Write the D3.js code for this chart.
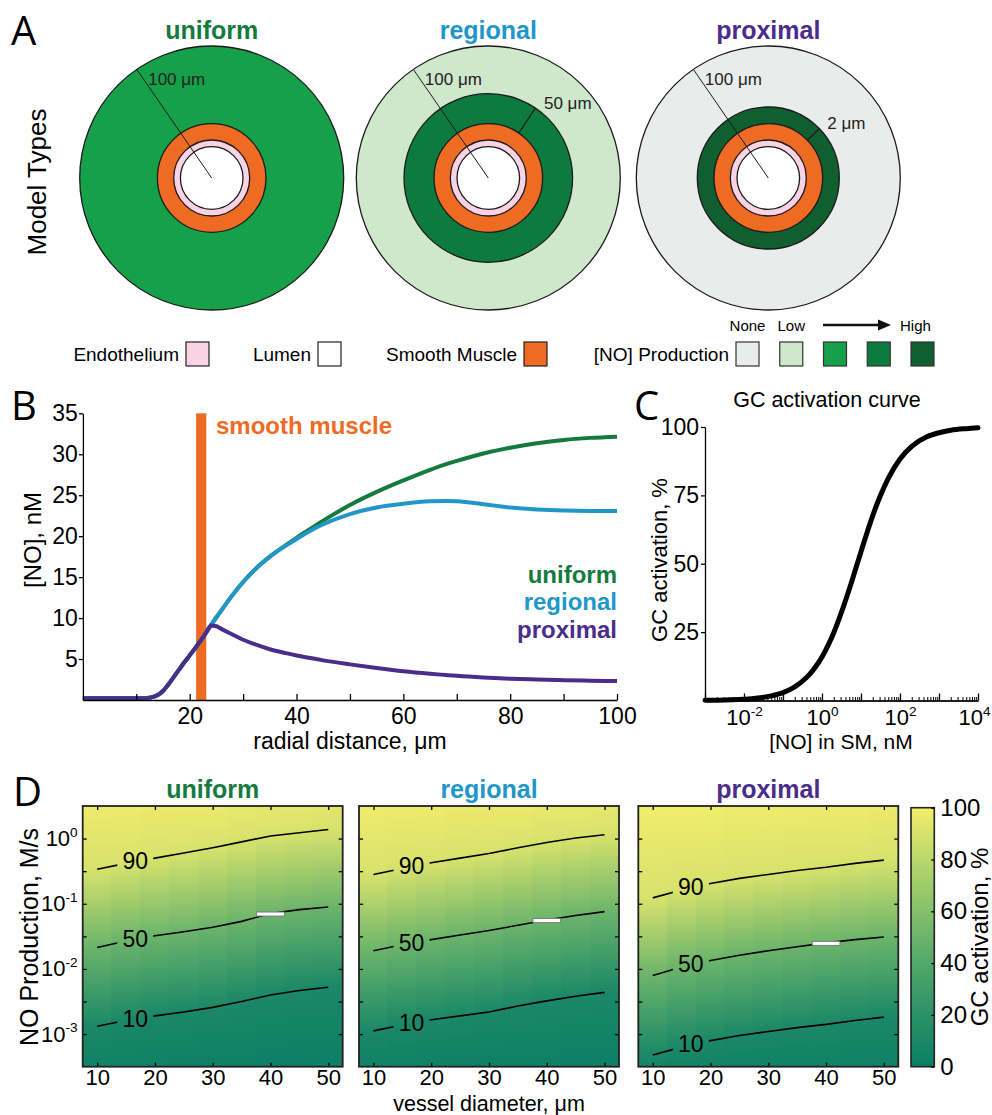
<!DOCTYPE html>
<html>
<head>
<meta charset="utf-8">
<script src="https://cdn.jsdelivr.net/npm/d3@7"></script>
<style>
  body { margin: 0; background: #fff; }
  svg { display: block; font-family: "Liberation Sans", Arial, Helvetica, sans-serif; }
</style>
</head>
<body>
<svg id="fig" width="992" height="1115"></svg>
<script>
// ---------- data ----------
const models = ["uniform", "regional", "proximal"];
const modelColor = {uniform: "#147a3e", regional: "#2197c9", proximal: "#4a2d8b"};

// panel A: NO production zones
const productionLevels = ["None", "Low", "Mid", "High", "Highest"];
const productionColors = ["#eaecec", "#cfe7cb", "#16a04a", "#0e7b3e", "#115e31"];
const outerZone = {uniform: "Mid", regional: "Low", proximal: "None"};
const innerZone = {uniform: null, regional: "High", proximal: "Highest"};
const zoneLabel = {uniform: null, regional: "50 μm", proximal: "2 μm"};
const tissues = ["Endothelium", "Lumen", "Smooth Muscle"];
const tissueColors = ["#f9d3e4", "#ffffff", "#ee6b24"];

// panel B: [NO] vs radial distance
const radial = [0, 5, 10, 12, 13, 14, 15, 16, 17, 18, 19, 20, 21, 22, 23, 24, 25, 26, 28, 30, 32, 35, 38, 40, 42, 45, 50, 55, 60, 65, 68, 70, 75, 80, 85, 90, 95, 100];
const noUniform  = [0.2, 0.2, 0.2, 0.25, 0.35, 0.6, 1.1, 1.9, 2.8, 3.7, 4.6, 5.45, 6.3, 7.2, 8.15, 9.15, 10.1, 11.0, 12.8, 14.4, 15.8, 17.5, 18.9, 19.8, 20.65, 21.9, 23.8, 25.4, 26.8, 28.1, 28.8, 29.2, 30.1, 30.8, 31.35, 31.75, 32.0, 32.15];
const noRegional = [0.2, 0.2, 0.2, 0.25, 0.35, 0.6, 1.1, 1.9, 2.8, 3.7, 4.6, 5.45, 6.3, 7.2, 8.15, 9.15, 10.1, 11.0, 12.8, 14.4, 15.8, 17.5, 18.85, 19.65, 20.45, 21.45, 22.7, 23.5, 23.95, 24.25, 24.3, 24.25, 23.9, 23.5, 23.25, 23.12, 23.08, 23.08];
const noProximal = [0.2, 0.2, 0.2, 0.25, 0.35, 0.6, 1.1, 1.9, 2.8, 3.7, 4.6, 5.45, 6.3, 7.2, 8.15, 9.1, 9.0, 8.65, 8.0, 7.35, 6.85, 6.2, 5.72, 5.43, 5.18, 4.84, 4.35, 3.9, 3.5, 3.2, 3.05, 2.95, 2.75, 2.6, 2.5, 2.42, 2.36, 2.32];
const smoothMuscleBand = [21.2, 23.1];

// panel C: GC activation curve
const noSM    = [0.001, 0.002, 0.005, 0.01, 0.02, 0.05, 0.1, 0.2, 0.3, 0.5, 0.7, 1, 1.5, 2, 3, 5, 8, 12, 20, 30, 50, 100, 200, 500, 1000, 2000, 5000, 10000];
const gcCurve = [0.08, 0.13, 0.27, 0.47, 0.8, 1.7, 2.9, 5.0, 6.8, 9.8, 12.5, 15.9, 20.8, 24.8, 31.4, 40.7, 50, 58, 67.6, 74.2, 81.2, 88.3, 92.9, 96.5, 97.9, 98.8, 99.4, 99.7];

// panel D: GC activation maps (log10 NO production where activation hits 90/50/10 %)
const diameters = [10, 15, 20, 25, 30, 35, 40, 45, 50];
const level90 = {
  uniform:  [-0.47, -0.38, -0.30, -0.22, -0.14, -0.05, 0.04, 0.09, 0.14],
  regional: [-0.55, -0.46, -0.37, -0.30, -0.23, -0.14, -0.06, 0.01, 0.06],
  proximal: [-0.91, -0.79, -0.69, -0.61, -0.55, -0.49, -0.44, -0.38, -0.33]
};
const level50 = {
  uniform:  [-1.67, -1.57, -1.49, -1.43, -1.36, -1.27, -1.15, -1.09, -1.05],
  regional: [-1.72, -1.63, -1.55, -1.48, -1.41, -1.33, -1.25, -1.18, -1.12],
  proximal: [-2.10, -1.97, -1.87, -1.79, -1.72, -1.66, -1.60, -1.55, -1.51]
};
const level10 = {
  uniform:  [-2.88, -2.79, -2.72, -2.66, -2.59, -2.50, -2.40, -2.33, -2.28],
  regional: [-2.95, -2.86, -2.78, -2.72, -2.66, -2.57, -2.49, -2.42, -2.36],
  proximal: [-3.32, -3.20, -3.10, -3.02, -2.96, -2.90, -2.85, -2.79, -2.74]
};
// activation at the top (10^0.5) and bottom (10^-3.5) edges of each column
const edgeTop = {
  uniform:  [98, 98, 97, 97, 97, 96, 95, 95, 94],
  regional: [98, 98, 98, 97, 97, 97, 96, 96, 95],
  proximal: [99, 99, 99, 98, 98, 98, 98, 98, 97]
};
const edgeBottom = {
  uniform:  [3.7, 2.9, 2.5, 2.2, 2.0, 1.7, 1.3, 1.2, 1.1],
  regional: [3.7, 3.1, 2.7, 2.4, 2.1, 1.8, 1.6, 1.4, 1.2],
  proximal: [7.2, 5.7, 4.7, 4.1, 3.7, 3.4, 3.0, 2.8, 2.6]
};
const markerDiameter = 40;
const cbarValues = [0, 20, 40, 60, 80, 100];
const cbarColors = ["#0b7e65", "#2b9268", "#52a86a", "#84c06b", "#b9d76b", "#f4ed6c"];

// ---------- figure ----------
const font = '"Liberation Sans", Arial, Helvetica, sans-serif';
const svg = d3.select("#fig").attr("font-family", font);

function panelLetter(t, x, y) {
  svg.append("text").attr("x", x).attr("y", y).attr("font-family", '"Open Sans", sans-serif')
    .attr("font-size", 40).text(t);
}
function powTick(sel, fs) {
  sel.each(function(d) {
    const e = Math.round(Math.log10(d));
    const t = d3.select(this).text(null);
    t.append("tspan").text("10");
    t.append("tspan").attr("dy", -fs * 0.42).attr("font-size", fs * 0.62).text(e);
  });
}

// ===== A =====
panelLetter("A", 11, 45);
svg.append("text").attr("transform", "translate(46,182) rotate(-90)").attr("text-anchor", "middle")
  .attr("font-size", 26).text("Model Types");

const aCx = {uniform: 211.7, regional: 488.3, proximal: 768.3};
const aCy = 178;
const aR = {outer: 132, zone: {regional: 84.3, proximal: 71}, muscle: 54.3, endo: 38, lumen: 31.3};
const prodColor = d3.scaleOrdinal().domain(productionLevels).range(productionColors);
const tissueColor = d3.scaleOrdinal().domain(tissues).range(tissueColors);

models.forEach(m => {
  const g = svg.append("g").attr("transform", `translate(${aCx[m]},${aCy})`);
  svg.append("text").attr("x", aCx[m]).attr("y", 39).attr("text-anchor", "middle")
    .attr("font-size", 25).attr("font-weight", "bold").attr("fill", modelColor[m]).text(m);
  const rings = [{r: aR.outer, f: prodColor(outerZone[m])}];
  if (innerZone[m]) rings.push({r: aR.zone[m], f: prodColor(innerZone[m])});
  rings.push({r: aR.muscle, f: tissueColor("Smooth Muscle")});
  rings.push({r: aR.endo, f: tissueColor("Endothelium")});
  rings.push({r: aR.lumen, f: tissueColor("Lumen")});
  g.selectAll("circle").data(rings).join("circle")
    .attr("r", d => d.r).attr("fill", d => d.f).attr("stroke", "#1a1a1a").attr("stroke-width", 1.3);
  const a = -34.6 * Math.PI / 180;
  g.append("line").attr("x1", 0).attr("y1", 0)
    .attr("x2", aR.outer * Math.sin(a)).attr("y2", -aR.outer * Math.cos(a))
    .attr("stroke", "#1a1a1a").attr("stroke-width", 1);
  g.append("text").attr("x", -63.5).attr("y", 85 - aCy).attr("font-size", 17).attr("fill", "#222").text("100 μm");
  if (zoneLabel[m]) {
    const b = (m === "regional" ? 34 : 46) * Math.PI / 180;
    const r1 = aR.muscle, r2 = aR.zone[m];
    g.append("line")
      .attr("x1", r1 * Math.sin(b)).attr("y1", -r1 * Math.cos(b))
      .attr("x2", r2 * Math.sin(b)).attr("y2", -r2 * Math.cos(b))
      .attr("stroke", "#1a1a1a").attr("stroke-width", 1.2);
    g.append("text").attr("x", m === "regional" ? 55.7 : 59).attr("y", (m === "regional" ? 109 : 129) - aCy)
      .attr("font-size", 17).attr("fill", "#222").text(zoneLabel[m]);
  }
});

// legend row
const legY = 342, sw = 23, sh = 24;
const tissueLegX = [186, 318, 524];
tissues.forEach((t, i) => {
  svg.append("text").attr("x", tissueLegX[i] - 7).attr("y", 361).attr("text-anchor", "end")
    .attr("font-size", 19).text(t);
  svg.append("rect").attr("x", tissueLegX[i]).attr("y", legY).attr("width", sw).attr("height", sh)
    .attr("fill", tissueColor(t)).attr("stroke", "#222").attr("stroke-width", 1.2);
});
svg.append("text").attr("x", 729).attr("y", 361).attr("text-anchor", "end").attr("font-size", 19).text("[NO] Production");
const prodLegX = d3.scalePoint().domain(productionLevels).range([736, 911]);
svg.selectAll(".prodsw").data(productionLevels).join("rect")
  .attr("x", d => prodLegX(d)).attr("y", legY).attr("width", sw).attr("height", sh)
  .attr("fill", d => prodColor(d)).attr("stroke", "#333").attr("stroke-width", 1.2);
svg.append("text").attr("x", prodLegX("None") + sw / 2).attr("y", 331).attr("text-anchor", "middle").attr("font-size", 15).text("None");
svg.append("text").attr("x", prodLegX("Low") + sw / 2).attr("y", 331).attr("text-anchor", "middle").attr("font-size", 15).text("Low");
svg.append("text").attr("x", 900).attr("y", 331).attr("font-size", 15).text("High");
svg.append("line").attr("x1", 823).attr("y1", 325).attr("x2", 880).attr("y2", 325).attr("stroke", "#111").attr("stroke-width", 2.6);
svg.append("path").attr("d", "M878,319.5L891,325L878,330.5Z").attr("fill", "#111");

// ===== B =====
panelLetter("B", 11, 420);
const bX = d3.scaleLinear().domain([0, 100]).range([82.9, 617]);
const bY = d3.scaleLinear().domain([0, 35]).range([700, 413.3]);
const gB = svg.append("g");
gB.append("rect").attr("x", bX(smoothMuscleBand[0])).attr("y", bY(35))
  .attr("width", bX(smoothMuscleBand[1]) - bX(smoothMuscleBand[0])).attr("height", bY(0) - bY(35))
  .attr("fill", "#ee6b24");
gB.append("text").attr("x", 216).attr("y", 434).attr("font-size", 24).attr("font-weight", "bold")
  .attr("fill", "#ee6b24").text("smooth muscle");
const bLine = d3.line().x((d, i) => bX(radial[i])).y(d => bY(d)).curve(d3.curveMonotoneX);
[["uniform", noUniform], ["regional", noRegional], ["proximal", noProximal]].forEach(([m, v]) => {
  gB.append("path").attr("d", bLine(v)).attr("fill", "none").attr("stroke", modelColor[m])
    .attr("stroke-width", 4).attr("stroke-linejoin", "round");
});
gB.append("g").attr("transform", `translate(0,${bY(0)})`)
  .call(d3.axisBottom(bX).tickValues(d3.range(10, 101, 10)).tickSizeInner(-6).tickSizeOuter(0).tickPadding(8)
    .tickFormat(d => d % 20 === 0 ? d : ""))
  .call(g => g.selectAll("text").attr("font-size", 23).attr("font-family", font).attr("fill", "#000"))
  .call(g => g.selectAll("line,path").attr("stroke", "#000").attr("stroke-width", 1.3));
gB.append("g").attr("transform", `translate(${bX(0)},0)`)
  .call(d3.axisLeft(bY).tickValues(d3.range(5, 36, 5)).tickSizeInner(4).tickSizeOuter(0).tickPadding(1))
  .call(g => g.selectAll("text").attr("font-size", 23).attr("font-family", font).attr("fill", "#000"))
  .call(g => g.selectAll("line,path").attr("stroke", "#000").attr("stroke-width", 1.3));
[["uniform", 583], ["regional", 610], ["proximal", 638]].forEach(([m, y]) => {
  gB.append("text").attr("x", 617).attr("y", y).attr("text-anchor", "end").attr("font-size", 24)
    .attr("font-weight", "bold").attr("fill", modelColor[m]).text(m);
});
gB.append("text").attr("x", 350).attr("y", 749).attr("text-anchor", "middle").attr("font-size", 23).text("radial distance, μm");
gB.append("text").attr("transform", "translate(41,540) rotate(-90)").attr("text-anchor", "middle")
  .attr("font-size", 24).text("[NO], nM");

// ===== C =====
panelLetter("C", 634, 420);
const cX = d3.scaleLog().domain([1e-3, 1e4]).range([705, 978]);
const cY = d3.scaleLinear().domain([0, 100]).range([700.5, 427]);
const gC = svg.append("g");
gC.append("text").attr("x", 827).attr("y", 407).attr("text-anchor", "middle").attr("font-size", 21.5).text("GC activation curve");
const cTicks = cX.ticks();
const cMajor = cTicks.filter(d => Math.abs(Math.log10(d) - Math.round(Math.log10(d))) < 1e-9);
const cMinor = cTicks.filter(d => !cMajor.includes(d));
gC.append("g").attr("transform", `translate(0,${cY(0)})`)
  .call(d3.axisBottom(cX).tickValues(cMinor).tickSizeInner(-3.5).tickSizeOuter(0).tickFormat(""))
  .call(g => g.selectAll("line,path").attr("stroke", "#000").attr("stroke-width", 1));
gC.append("g").attr("transform", `translate(0,${cY(0)})`)
  .call(d3.axisBottom(cX).tickValues(cMajor).tickSizeInner(-7).tickSizeOuter(0).tickPadding(9))
  .call(g => g.selectAll("line,path").attr("stroke", "#000").attr("stroke-width", 1.3))
  .call(g => g.selectAll("text").attr("font-size", 22).attr("font-family", font).attr("fill", "#000"))
  .call(g => g.selectAll(".tick text").filter(d => Math.round(Math.log10(d)) % 2 !== 0).remove())
  .call(g => powTick(g.selectAll(".tick text"), 22))
  .call(g => g.selectAll(".tick text").filter(d => d === 1e4).attr("dx", -4));
gC.append("g").attr("transform", `translate(${cX(1e-3)},0)`)
  .call(d3.axisLeft(cY).tickValues([25, 50, 75, 100]).tickSizeInner(4).tickSizeOuter(0).tickPadding(2))
  .call(g => g.selectAll("text").attr("font-size", 23).attr("font-family", font).attr("fill", "#000"))
  .call(g => g.selectAll("line,path").attr("stroke", "#000").attr("stroke-width", 1.3));
gC.append("path").attr("d", d3.line().x((d, i) => cX(noSM[i])).y(d => cY(d)).curve(d3.curveMonotoneX)(gcCurve))
  .attr("fill", "none").attr("stroke", "#000").attr("stroke-width", 5).attr("stroke-linecap", "round");
gC.append("text").attr("x", 841).attr("y", 749).attr("text-anchor", "middle").attr("font-size", 21).text("[NO] in SM, nM");
gC.append("text").attr("transform", "translate(667,560) rotate(-90)").attr("text-anchor", "middle")
  .attr("font-size", 22).text("GC activation, %");

// ===== D =====
panelLetter("D", 13, 806);
const gcColor = d3.scaleLinear().domain(cbarValues).range(cbarColors).interpolate(d3.interpolateRgb);
const dTop = 806, dBot = 1066.7, dW = 260;
const dY = d3.scaleLog().domain([10 ** -3.5, 10 ** 0.5]).range([dBot, dTop]);
const dYTicks = [0, -0.5, -1, -1.5, -2, -2.5, -3].map(e => 10 ** e);
const panelX = {uniform: 82.7, regional: 359, proximal: 638.3};
const defs = svg.append("defs");

models.forEach((m, mi) => {
  const x0 = panelX[m];
  const dX = d3.scaleLinear().domain([7.5, 52.5]).range([x0, x0 + dW]);
  const g = svg.append("g");
  svg.append("text").attr("x", x0 + dW / 2).attr("y", 798).attr("text-anchor", "middle")
    .attr("font-size", 25).attr("font-weight", "bold").attr("fill", modelColor[m]).text(m);

  const off = v => (dY(10 ** v) - dTop) / (dBot - dTop);
  diameters.forEach((d, i) => {
    const id = `grad-${m}-${d}`;
    const gr = defs.append("linearGradient").attr("id", id)
      .attr("gradientUnits", "userSpaceOnUse").attr("x1", 0).attr("x2", 0).attr("y1", dTop).attr("y2", dBot);
    const stops = [
      [0, edgeTop[m][i]], [off(level90[m][i]), 90], [off(level50[m][i]), 50],
      [off(level10[m][i]), 10], [1, edgeBottom[m][i]]
    ];
    gr.selectAll("stop").data(stops).join("stop")
      .attr("offset", s => s[0]).attr("stop-color", s => gcColor(s[1]));
    const xa = Math.floor(dX(d - 2.5)), xb = i === diameters.length - 1 ? dX(d + 2.5) : Math.ceil(dX(d + 2.5)) + 1;
    g.append("rect").attr("x", xa).attr("y", dTop).attr("width", xb - xa)
      .attr("height", dBot - dTop).attr("fill", `url(#${id})`).attr("shape-rendering", "crispEdges");
  });

  // contour lines with gaps for labels
  const labelD = 16.6;
  const levels = [[90, level90[m]], [50, level50[m]], [10, level10[m]]];
  const mask = defs.append("mask").attr("id", `mask-${m}`).attr("maskUnits", "userSpaceOnUse")
    .attr("x", x0).attr("y", dTop).attr("width", dW).attr("height", dBot - dTop);
  mask.append("rect").attr("x", x0).attr("y", dTop).attr("width", dW).attr("height", dBot - dTop).attr("fill", "#fff");
  const cl = d3.line().x((v, i) => dX(diameters[i])).y(v => dY(10 ** v));
  const lg = g.append("g").attr("mask", `url(#mask-${m})`);
  levels.forEach(([lv, vals]) => {
    const ly = dY(10 ** ((vals[1] + vals[2]) / 2));
    mask.append("rect").attr("x", dX(labelD) - 18).attr("y", ly - 14).attr("width", 36).attr("height", 28).attr("fill", "#000");
    lg.append("path").attr("d", cl(vals)).attr("fill", "none").attr("stroke", "#000").attr("stroke-width", 1.6);
    g.append("text").attr("x", dX(labelD)).attr("y", ly + 8.5).attr("text-anchor", "middle")
      .attr("font-size", 23).text(lv);
  });

  // marker on the 50 % line
  const mi40 = diameters.indexOf(markerDiameter);
  g.append("rect").attr("x", dX(markerDiameter - 2.4)).attr("y", dY(10 ** level50[m][mi40]) - 1.5)
    .attr("width", dX(markerDiameter + 2.4) - dX(markerDiameter - 2.4)).attr("height", 4)
    .attr("fill", "#fff").attr("stroke", "#777").attr("stroke-width", 0.9);

  // axes (ticks inward on all sides)
  const styleAx = sel => sel.call(s => s.select(".domain").remove())
    .call(s => s.selectAll("line").attr("stroke", "#000").attr("stroke-width", 1.3))
    .call(s => s.selectAll("text").attr("font-size", 22).attr("font-family", font).attr("fill", "#000"));
  g.append("g").attr("transform", `translate(0,${dBot})`)
    .call(d3.axisBottom(dX).tickValues([10, 20, 30, 40, 50]).tickSizeInner(-4).tickSizeOuter(0).tickPadding(3))
    .call(styleAx);
  g.append("g").attr("transform", `translate(0,${dTop})`)
    .call(d3.axisTop(dX).tickValues([10, 20, 30, 40, 50]).tickSizeInner(-4).tickSizeOuter(0).tickFormat(""))
    .call(styleAx);
  g.append("g").attr("transform", `translate(${x0 + dW},0)`)
    .call(d3.axisRight(dY).tickValues(dYTicks).tickSizeInner(-4).tickSizeOuter(0).tickFormat(""))
    .call(styleAx);
  const la = g.append("g").attr("transform", `translate(${x0},0)`)
    .call(d3.axisLeft(dY).tickValues(dYTicks).tickSizeInner(-4).tickSizeOuter(0).tickPadding(5))
    .call(styleAx);
  la.selectAll(".tick text").filter(d => Math.abs(Math.log10(d) % 1) > 1e-9).remove();
  if (mi === 0) powTick(la.selectAll(".tick text"), 22);
  else la.selectAll(".tick text").remove();

  g.append("rect").attr("x", x0).attr("y", dTop).attr("width", dW).attr("height", dBot - dTop)
    .attr("fill", "none").attr("stroke", "#222").attr("stroke-width", 1.8);
});

svg.append("text").attr("x", 489).attr("y", 1110.5).attr("text-anchor", "middle").attr("font-size", 21.5).text("vessel diameter, μm");
svg.append("text").attr("transform", "translate(38,937) rotate(-90)").attr("text-anchor", "middle")
  .attr("font-size", 25).text("NO Production, M/s");

// colorbar
const cbY = d3.scaleLinear().domain([0, 100]).range([1066.7, 807.7]);
const cbGrad = defs.append("linearGradient").attr("id", "cbar").attr("x1", 0).attr("x2", 0).attr("y1", 1).attr("y2", 0);
cbGrad.selectAll("stop").data(cbarValues).join("stop")
  .attr("offset", d => d / 100).attr("stop-color", d => gcColor(d));
svg.append("rect").attr("x", 911).attr("y", cbY(100)).attr("width", 23.3).attr("height", cbY(0) - cbY(100))
  .attr("fill", "url(#cbar)").attr("stroke", "#222").attr("stroke-width", 1.6);
svg.append("g").attr("transform", "translate(934.3,0)")
  .call(d3.axisRight(cbY).tickValues(cbarValues).tickSizeInner(-3).tickSizeOuter(0).tickPadding(6))
  .call(g => g.select(".domain").remove())
  .call(g => g.selectAll("line").attr("stroke", "#000").attr("stroke-width", 1.3))
  .call(g => g.selectAll("text").attr("font-size", 24).attr("font-family", font).attr("fill", "#000"));
svg.append("text").attr("transform", "translate(988,937) rotate(-90)").attr("text-anchor", "middle")
  .attr("font-size", 24).text("GC activation, %");
</script>
</body>
</html>
